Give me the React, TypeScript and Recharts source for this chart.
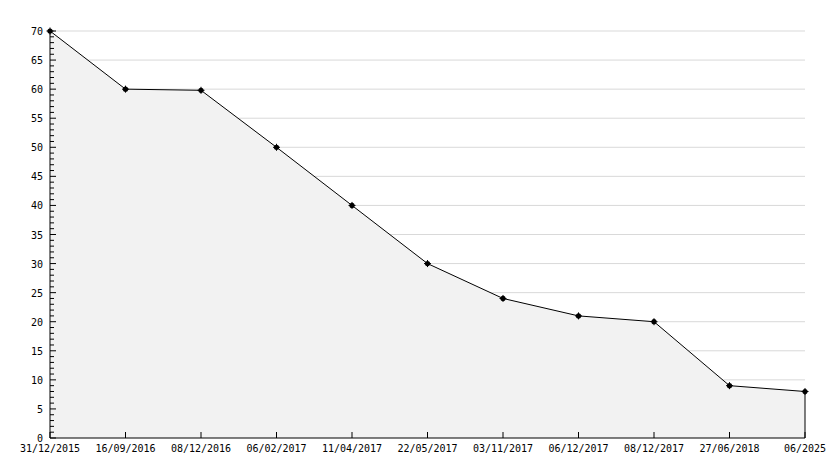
import { AreaChart, Area, XAxis, YAxis, CartesianGrid, ReferenceLine } from "recharts";

const dates = [
  "31/12/2015",
  "16/09/2016",
  "08/12/2016",
  "06/02/2017",
  "11/04/2017",
  "22/05/2017",
  "03/11/2017",
  "06/12/2017",
  "08/12/2017",
  "27/06/2018",
  "06/2025",
];
const values = [70, 60, 59.8, 50, 40, 30, 24, 21, 20, 9, 8];
const majorTicks = [0, 5, 10, 15, 20, 25, 30, 35, 40, 45, 50, 55, 60, 65, 70];
const gridLines = [5, 10, 15, 20, 25, 30, 35, 40, 45, 50, 55, 60, 65, 70];
// every unit gets a small tick, labels only on the majors
const allTicks = Array.from({ length: 71 }, (_, i) => i);

const data = dates.map((d, i) => ({ date: d, value: values[i] }));
const lastDate = dates[dates.length - 1];
const lastValue = values[values.length - 1];

const FONT = "'DejaVu Sans Mono', monospace";

function YTick(props: any) {
  const { x, y, payload } = props;
  const major = majorTicks.includes(payload.value);
  return (
    <g>
      <line x1={x} y1={y} x2={x + (major ? 6 : 4)} y2={y} stroke="#000" />
      {major && (
        <text x={x - 7} y={y} dy={4} textAnchor="end" fontFamily={FONT} fontSize={10} fill="#000">
          {payload.value}
        </text>
      )}
    </g>
  );
}

function XTick(props: any) {
  const { x, y, payload } = props;
  return (
    <g>
      <line x1={x} y1={y} x2={x} y2={y - 6} stroke="#000" />
      <text x={x} y={y + 14} textAnchor="middle" fontFamily={FONT} fontSize={10} fill="#000">
        {payload.value}
      </text>
    </g>
  );
}

function BlobDot(props: any) {
  const { cx, cy } = props;
  if (cx == null || cy == null) return null;
  return (
    <g>
      <circle cx={cx} cy={cy} r={2.6} fill="#000" />
      <line x1={cx - 3.5} y1={cy} x2={cx + 3.5} y2={cy} stroke="#000" strokeWidth={1} />
      <line x1={cx} y1={cy - 3.5} x2={cx} y2={cy + 3.5} stroke="#000" strokeWidth={1} />
    </g>
  );
}

export default function App() {
  return (
    <div style={{ position: "absolute", left: 0, top: 0, background: "#fff" }}>
      <AreaChart width={834} height={468} data={data} margin={{ top: 31, right: 29, bottom: 0, left: 0 }}>
        <CartesianGrid horizontal vertical={false} stroke="#d9d9d9" horizontalValues={gridLines} />
        <XAxis
          dataKey="date"
          axisLine={{ stroke: "#000" }}
          tickLine={false}
          tickSize={0}
          tickMargin={0}
          height={30}
          interval={0}
          tick={<XTick />}
        />
        <YAxis
          domain={[0, 70]}
          ticks={allTicks}
          interval={0}
          width={50}
          axisLine={{ stroke: "#000" }}
          tickLine={false}
          tickSize={0}
          tickMargin={0}
          tick={<YTick />}
        />
        <Area
          type="linear"
          dataKey="value"
          stroke="#000"
          strokeWidth={1}
          fill="#f2f2f2"
          fillOpacity={1}
          dot={<BlobDot />}
          activeDot={false}
          isAnimationActive={false}
        />
        <ReferenceLine
          segment={[
            { x: lastDate, y: 0 },
            { x: lastDate, y: lastValue },
          ]}
          stroke="#000"
        />
      </AreaChart>
    </div>
  );
}
